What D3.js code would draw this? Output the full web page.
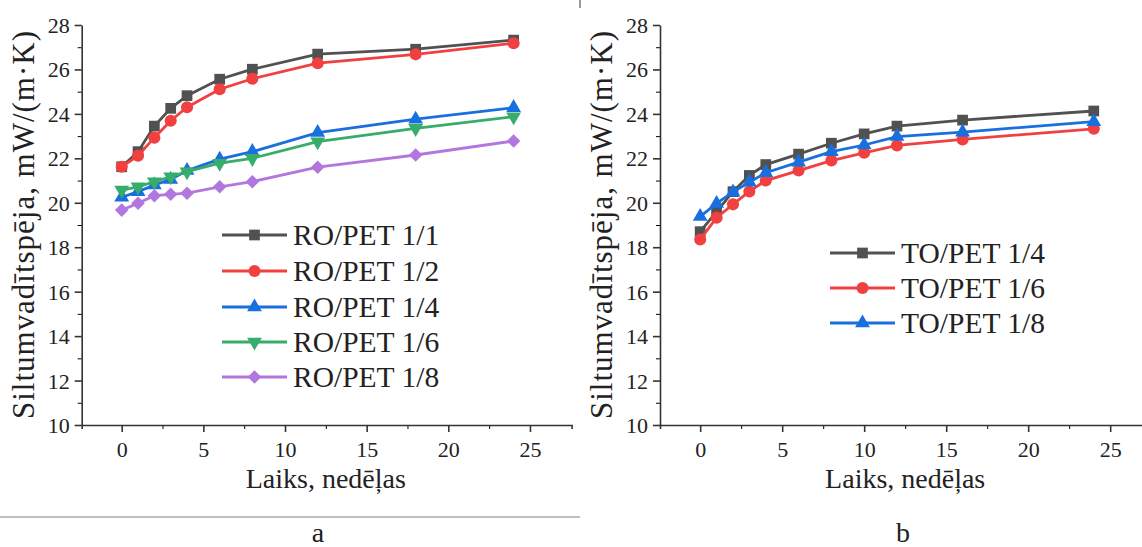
<!DOCTYPE html>
<html>
<head>
<meta charset="utf-8">
<script src="https://cdn.jsdelivr.net/npm/d3@7"></script>
<style>
    body { margin: 0; background: #fff; }
    svg { display: block; }
    svg text { font-family: "Liberation Serif", "Times New Roman", Times, "DejaVu Serif", serif !important; fill: #222; }
</style>
</head>
<body>
<div class="draw"></div>
<script>
// weeks (x) and values
var weeksA = [0, 1, 2, 3, 4, 6, 8, 12, 18, 24];
var ro11 = [21.62, 22.30, 23.45, 24.25, 24.82, 25.56, 26.01, 26.69, 26.91, 27.32];
var ro12 = [21.62, 22.12, 22.93, 23.69, 24.30, 25.11, 25.58, 26.28, 26.68, 27.18];
var ro14 = [20.25, 20.50, 20.80, 21.05, 21.45, 21.96, 22.30, 23.16, 23.76, 24.28];
var ro16 = [20.57, 20.72, 20.95, 21.17, 21.40, 21.78, 22.00, 22.75, 23.35, 23.87];
var ro18 = [19.67, 19.98, 20.32, 20.38, 20.43, 20.72, 20.95, 21.60, 22.15, 22.78];

var weeksB = [0, 1, 2, 3, 4, 6, 8, 10, 12, 16, 24];
var to14 = [18.70, 19.60, 20.50, 21.23, 21.72, 22.19, 22.68, 23.10, 23.45, 23.72, 24.13];
var to16 = [18.35, 19.33, 19.93, 20.51, 21.00, 21.45, 21.90, 22.25, 22.58, 22.85, 23.33];
var to18 = [19.38, 19.97, 20.48, 20.93, 21.35, 21.83, 22.30, 22.60, 22.98, 23.18, 23.65];

var namesA = ['RO/PET 1/1', 'RO/PET 1/2', 'RO/PET 1/4', 'RO/PET 1/6', 'RO/PET 1/8'];
var namesB = ['TO/PET 1/4', 'TO/PET 1/6', 'TO/PET 1/8'];

var xTicks = [0, 5, 10, 15, 20, 25];
var yTicks = [10, 12, 14, 16, 18, 20, 22, 24, 26, 28];
var yTitle = 'Siltumvadītspēja, mW/(m·K)';
var xTitle = 'Laiks, nedēļas';

var W = 1142, H = 547;
var FONT = '"Liberation Serif", "Times New Roman", Times, "DejaVu Serif", serif';

var svg = d3.select(".draw").append("svg")
    .attr("width", W)
    .attr("height", H)
    .attr("font-family", FONT);

// marker shapes (origin style)
var shapes = {
    square: d3.symbol().type(d3.symbolSquare).size(115),
    circle: d3.symbol().type(d3.symbolCircle).size(115),
    up: d3.symbol().type(d3.symbolTriangle).size(95),
    down: d3.symbol().type(d3.symbolTriangle).size(95),
    diamond: d3.symbol().type(d3.symbolSquare).size(92)
};
var rot = { square: 0, circle: 0, up: 0, down: 180, diamond: 45 };

function drawPanel(p) {
    var g = svg.append("g");

    var x = d3.scaleLinear().domain([-2.45, 27.55]).range([p.x0, p.x0 + 30 * p.pxWeek]);
    var y = d3.scaleLinear().domain([10, 28]).range([425, 25]);

    // minor ticks first, major on top
    g.append("g")
        .attr("transform", "translate(0,425)")
        .call(d3.axisBottom(x).tickValues(d3.range(2.5, 27.5, 5)).tickSize(4).tickSizeOuter(0).tickFormat(""))
        .call(function (s) { s.select(".domain").remove(); });
    g.append("g")
        .attr("transform", "translate(" + p.x0 + ",0)")
        .call(d3.axisLeft(y).tickValues(d3.range(11, 28, 2)).tickSize(4).tickSizeOuter(0).tickFormat(""))
        .call(function (s) { s.select(".domain").remove(); });

    var xa = g.append("g")
        .attr("transform", "translate(0,425)")
        .call(d3.axisBottom(x).tickValues(xTicks).tickSize(7).tickSizeOuter(4));
    var ya = g.append("g")
        .attr("transform", "translate(" + p.x0 + ",0)")
        .call(d3.axisLeft(y).tickValues(yTicks).tickSize(7).tickSizeOuter(0));

    g.selectAll("g").attr("font-family", FONT);

    [xa, ya].forEach(function (a) {
        a.selectAll("path, line").attr("stroke", "#333").attr("stroke-width", 1.6);
        a.selectAll("text").attr("font-size", 22).attr("fill", "#222");
    });
    xa.selectAll("text").attr("dy", null).attr("y", 32);
    ya.selectAll("text").attr("x", -12).attr("dy", "0.34em");

    // titles
    g.append("text")
        .attr("transform", "translate(" + (p.x0 - 48) + ",225) rotate(-90)")
        .attr("text-anchor", "middle")
        .attr("font-size", 31)
        .attr("textLength", 388)
        .attr("lengthAdjust", "spacing")
        .text(yTitle);
    g.append("text")
        .attr("x", x(12.5))
        .attr("y", 488)
        .attr("text-anchor", "middle")
        .attr("font-size", 28)
        .text(xTitle);

    var line = d3.line()
        .x(function (d) { return x(d[0]); })
        .y(function (d) { return y(d[1]); });

    p.series.forEach(function (s) {
        var pts = p.weeks.map(function (w, i) { return [w, s.values[i]]; });
        g.append("path")
            .datum(pts)
            .attr("d", line)
            .attr("fill", "none")
            .attr("stroke", s.color)
            .attr("stroke-width", 2.8);
        g.selectAll(null)
            .data(pts)
            .enter().append("path")
            .attr("d", shapes[s.shape])
            .attr("transform", function (d) {
                return "translate(" + x(d[0]) + "," + y(d[1]) + ") rotate(" + rot[s.shape] + ")";
            })
            .attr("fill", s.color);
    });

    // legend
    var lg = g.append("g");
    p.series.forEach(function (s, i) {
        var ly = p.legY[i];
        lg.append("line")
            .attr("x1", p.legX).attr("x2", p.legX + 65)
            .attr("y1", ly).attr("y2", ly)
            .attr("stroke", s.color).attr("stroke-width", 2.8);
        lg.append("path")
            .attr("d", shapes[s.shape])
            .attr("transform", "translate(" + (p.legX + 32.5) + "," + ly + ") rotate(" + rot[s.shape] + ")")
            .attr("fill", s.color);
        lg.append("text")
            .attr("x", p.legX + 71)
            .attr("y", ly + 10)
            .attr("font-size", 29.5)
            .text(s.name);
    });

    // panel letter
    g.append("text")
        .attr("x", p.letterX)
        .attr("y", 542)
        .attr("text-anchor", "middle")
        .attr("font-size", 28)
        .text(p.letter);
}

var colors = ['#515151', '#F14040', '#1A6FDF', '#37AD6B', '#B177DE'];

drawPanel({
    x0: 81.7, pxWeek: 16.33,
    weeks: weeksA,
    series: [
        { name: namesA[0], values: ro11, color: colors[0], shape: 'square' },
        { name: namesA[1], values: ro12, color: colors[1], shape: 'circle' },
        { name: namesA[2], values: ro14, color: colors[2], shape: 'up' },
        { name: namesA[3], values: ro16, color: colors[3], shape: 'down' },
        { name: namesA[4], values: ro18, color: colors[4], shape: 'diamond' }
    ],
    legX: 222, legY: [235, 271, 307, 342, 377],
    letter: 'a', letterX: 318
});

drawPanel({
    x0: 660, pxWeek: 16.4,
    weeks: weeksB,
    series: [
        { name: namesB[0], values: to14, color: colors[0], shape: 'square' },
        { name: namesB[1], values: to16, color: colors[1], shape: 'circle' },
        { name: namesB[2], values: to18, color: colors[2], shape: 'up' }
    ],
    legX: 830, legY: [253, 288, 323],
    letter: 'b', letterX: 903
});

// separator under panel a and the small mark at the top
svg.append("line")
    .attr("x1", 0).attr("x2", 580)
    .attr("y1", 517).attr("y2", 517)
    .attr("stroke", "#aaa").attr("stroke-width", 1.5);
svg.append("line")
    .attr("x1", 580).attr("x2", 580)
    .attr("y1", 0).attr("y2", 8)
    .attr("stroke", "#555").attr("stroke-width", 1.2);
</script>
</body>
</html>
